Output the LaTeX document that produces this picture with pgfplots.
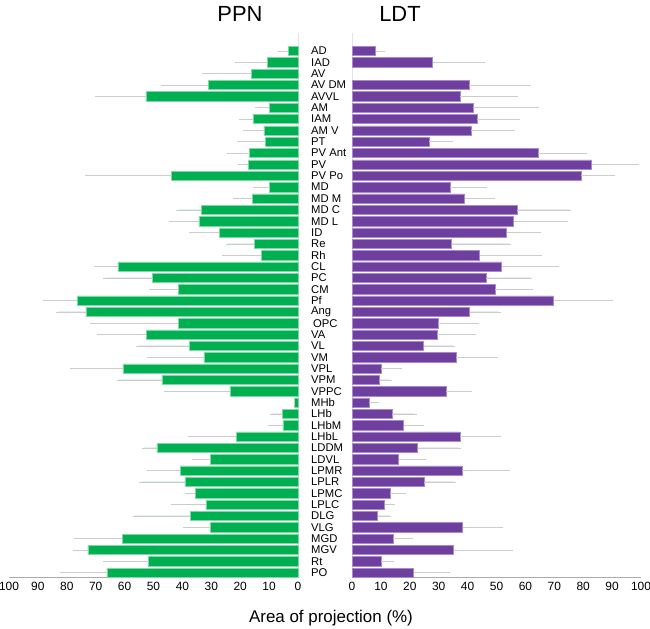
\documentclass[border=0pt]{standalone}
\usepackage{pgfplots}
\pgfplotsset{compat=1.18}
\usepackage{pgfplotstable}
\usepackage{fontspec}
\setmainfont{Liberation Sans}
\definecolor{ppn}{HTML}{00B050}
\definecolor{ppnedge}{HTML}{7FD8A6}
\definecolor{ldt}{HTML}{6E3F9E}
\definecolor{ldtedge}{HTML}{A98BCB}
\definecolor{errc}{HTML}{CCCCCC}

\pgfplotstableread{
y v e
0 3.3 2.7
1 10.6 10.5
2 16.2 16.3
3 31.1 15.6
4 52.6 16.9
5 10.0 4.2
6 15.6 3.9
7 11.8 6.4
8 11.3 9.1
9 16.7 7.0
10 17.3 2.7
11 43.7 29.3
12 9.8 4.9
13 15.8 5.9
14 33.4 8.0
15 34.3 9.6
16 27.3 9.7
17 15.1 9.1
18 12.8 12.8
19 62.3 7.5
20 50.3 16.4
21 41.5 9.2
22 76.4 11.0
23 73.4 9.5
24 41.5 29.8
25 52.5 16.3
26 37.7 17.6
27 32.6 18.9
28 60.6 17.5
29 47.1 14.8
30 23.6 22.0
31 1.2 0.0
32 5.5 3.5
33 5.2 4.5
34 21.3 16.0
35 48.8 4.4
36 30.2 5.6
37 40.8 10.7
38 39.1 15.0
39 35.5 2.7
40 31.9 11.2
41 37.3 19.2
42 30.5 8.7
43 60.8 15.8
44 72.7 4.4
45 51.7 15.0
46 66.1 15.6
}\ppndata

\pgfplotstableread{
y v e
0 8.2 2.3
1 27.9 17.3
3 40.4 20.7
4 37.5 19.2
5 41.9 22.1
6 43.4 14.0
7 41.2 14.4
8 26.6 7.7
9 64.5 16.0
10 82.9 15.5
11 79.2 11.0
12 33.9 12.0
13 39.0 9.8
14 57.1 18.0
15 55.9 18.0
16 53.5 11.1
17 34.3 20.0
18 44.2 20.7
19 51.8 19.2
20 46.3 15.2
21 49.5 12.3
22 69.8 19.7
23 40.7 10.0
24 29.8 13.3
25 29.5 12.8
26 24.8 10.0
27 36.1 13.6
28 10.0 6.5
29 9.3 3.7
30 32.5 8.2
31 5.8 2.7
32 14.0 7.7
33 17.9 6.1
34 37.5 13.4
35 22.7 14.2
36 16.1 8.7
37 38.1 15.8
38 25.0 10.2
39 13.1 4.8
40 11.3 2.7
41 8.9 4.0
42 38.3 13.1
43 14.3 5.9
44 35.2 19.9
45 10.0 3.6
46 21.3 12.0
}\ldtdata

\pgfplotsset{
  butterfly/.style={
    scale only axis, anchor=south west,
    width=289bp, height=544bp,
    xmin=0, xmax=100,
    ymin=-1.59, ymax=46.38, y dir=reverse,
    xtick={0,10,...,100},
    major tick length=0pt,
    tick style={draw=none},
    /pgf/number format/assume math mode=true,
    xticklabel style={font=\fontsize{12}{14}\selectfont, inner sep=0pt, yshift=-5bp},
    x axis line style={draw=gray!65, line width=0.8pt, -},
    y axis line style={draw=gray!22, line width=0.6pt, -},
    clip=false,
  },
  errstyle/.style={
    error bars/.cd, x dir=plus, x explicit,
    error bar style={draw=errc, line width=0.6pt},
    error mark options={draw=errc, mark size=2.2bp, line width=0.6pt},
  },
}

\begin{document}
\begin{tikzpicture}
\path[use as bounding box] (0,0) rectangle (650bp,629bp);

\begin{axis}[butterfly, at={(9bp,52bp)},
  x dir=reverse,
  axis x line*=bottom, axis y line*=right,
  ytick={0,...,46},
  yticklabels={AD,IAD,AV,AV DM,AVVL,AM,IAM,AM V,PT,PV Ant,PV,PV Po,MD,MD M,MD C,MD L,ID,Re,Rh,CL,PC,CM,Pf,Ang,\hspace{2bp}OPC,VA,VL,VM,VPL,VPM,VPPC,MHb,LHb,LHbM,LHbL,LDDM,LDVL,LPMR,LPLR,LPMC,LPLC,DLG,VLG,MGD,MGV,Rt,PO},
  yticklabel style={anchor=west, inner sep=0pt, xshift=13bp, font=\fontsize{11.3}{11.3}\selectfont},
]
\addplot[xbar, bar width=0.82, fill=ppn, draw=ppnedge, line width=0.5pt, errstyle]
  table[x=v, y=y, x error=e] {\ppndata};
\end{axis}

\begin{axis}[butterfly, at={(352bp,52bp)},
  axis x line*=bottom, axis y line*=left,
  ytick=\empty,
]
\addplot[xbar, bar width=0.82, fill=ldt, draw=ldtedge, line width=0.5pt, errstyle]
  table[x=v, y=y, x error=e] {\ldtdata};
\end{axis}

\node[font=\fontsize{22}{24}\selectfont] at (240bp,615bp) {PPN};
\node[font=\fontsize{22}{24}\selectfont] at (400bp,615bp) {LDT};
\node[font=\fontsize{17}{19}\selectfont] at (331bp,11bp) {Area of projection (\%)};
\end{tikzpicture}
\end{document}
